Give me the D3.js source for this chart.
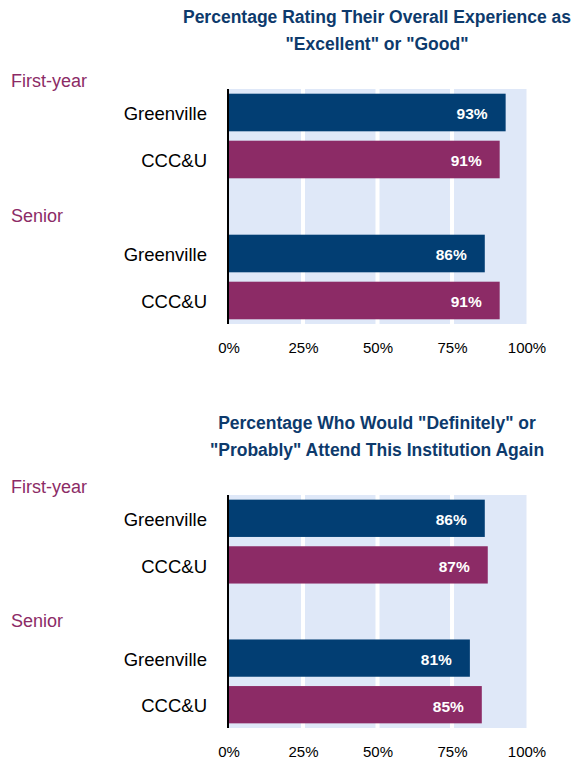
<!DOCTYPE html>
<html>
    <head>
        <title>Overall Experience and Attend Again</title>
        <meta charset="UTF-8">
        <script src="https://cdn.jsdelivr.net/npm/d3@7"></script>
        <style>
            body { margin: 0; background: #fff; }
            text { font-family: "Liberation Sans", Arial, sans-serif; }
        </style>
    </head>
    <body>
        <script>
            // chart data
            var rows = ["First-year Greenville", "First-year CCC&U", "gap", "Senior Greenville", "Senior CCC&U"];
            var rowLabels = ["Greenville", "CCC&U", "", "Greenville", "CCC&U"];
            var groups = ["First-year", "Senior"];
            var experienceValues = [93, 91, null, 86, 91];
            var attendAgainValues = [86, 87, null, 81, 85];
            var experienceTitle = ["Percentage Rating Their Overall Experience as", "\"Excellent\" or \"Good\""];
            var attendAgainTitle = ["Percentage Who Would \"Definitely\" or", "\"Probably\" Attend This Institution Again"];
            var ticks = [0, 25, 50, 75, 100];

            var navy = "#023e73", purple = "#8c2b66", plotBg = "#dfe8f8", titleColor = "#0d3a6c";

            var svg = d3.select("body").append("svg")
                    .attr("width", 582)
                    .attr("height", 761);

            var x = d3.scaleLinear().domain([0, 100]).range([228.5, 526.5]);

            function drawChart(titleLines, values, top, bottom) {
                var g = svg.append("g");

                var y = d3.scaleBand()
                        .domain(rows)
                        .range([top, bottom])
                        .paddingInner(0.2)
                        .paddingOuter(0.1);

                // title, centred over plot area
                g.selectAll(".title")
                        .data(titleLines)
                        .enter()
                        .append("text")
                        .attr("x", 377)
                        .attr("y", function (d, i) { return top - 66 + i * 26.5; })
                        .attr("text-anchor", "middle")
                        .attr("font-size", 17.5)
                        .attr("font-weight", "bold")
                        .attr("fill", titleColor)
                        .text(function (d) { return d; });

                // light blue plot background
                g.append("rect")
                        .attr("x", x(0))
                        .attr("y", top)
                        .attr("width", x(100) - x(0))
                        .attr("height", bottom - top)
                        .attr("fill", plotBg);

                // white gridlines
                g.selectAll(".grid")
                        .data(ticks.filter(function (t) { return t > 0 && t < 100; }))
                        .enter()
                        .append("line")
                        .attr("x1", function (d) { return x(d); })
                        .attr("x2", function (d) { return x(d); })
                        .attr("y1", top)
                        .attr("y2", bottom)
                        .attr("stroke", "#fff")
                        .attr("stroke-width", 4);

                var data = rows.map(function (r, i) {
                    return {row: r, label: rowLabels[i], value: values[i], color: i % 3 === 0 ? navy : purple};
                }).filter(function (d) { return d.value !== null; });

                // bars
                g.selectAll(".bar")
                        .data(data)
                        .enter()
                        .append("rect")
                        .attr("x", x(0))
                        .attr("y", function (d) { return y(d.row); })
                        .attr("width", function (d) { return x(d.value) - x(0); })
                        .attr("height", y.bandwidth())
                        .attr("fill", function (d) { return d.color; });

                // value labels inside the bars
                g.selectAll(".val")
                        .data(data)
                        .enter()
                        .append("text")
                        .attr("x", function (d) { return x(d.value) - 18; })
                        .attr("y", function (d) { return y(d.row) + y.bandwidth() / 2; })
                        .attr("dy", "0.45em")
                        .attr("text-anchor", "end")
                        .attr("font-size", 15.5)
                        .attr("font-weight", "bold")
                        .attr("fill", "#fff")
                        .text(function (d) { return d.value + "%"; });

                // category labels
                g.selectAll(".cat")
                        .data(data)
                        .enter()
                        .append("text")
                        .attr("x", 207)
                        .attr("y", function (d) { return y(d.row) + y.bandwidth() / 2; })
                        .attr("dy", "0.42em")
                        .attr("text-anchor", "end")
                        .attr("font-size", 18.5)
                        .attr("fill", "#000")
                        .text(function (d) { return d.label; });

                // group labels (First-year / Senior)
                g.selectAll(".grp")
                        .data(groups)
                        .enter()
                        .append("text")
                        .attr("x", 11)
                        .attr("y", function (d, i) { return i === 0 ? top - 2 : y("gap") + y.bandwidth() - 3.5; })
                        .attr("font-size", 18)
                        .attr("fill", purple)
                        .text(function (d) { return d; });

                // vertical axis line
                g.append("line")
                        .attr("x1", 228)
                        .attr("x2", 228)
                        .attr("y1", top)
                        .attr("y2", bottom)
                        .attr("stroke", "#000")
                        .attr("stroke-width", 2);

                // x axis tick labels
                var axis = g.append("g")
                        .attr("transform", "translate(0," + bottom + ")")
                        .call(d3.axisBottom(x)
                                .tickValues(ticks)
                                .tickSize(0)
                                .tickPadding(18)
                                .tickFormat(function (d) { return d + "%"; }));
                axis.select(".domain").remove();
                axis.selectAll("text")
                        .attr("font-size", 15)
                        .attr("font-family", "Liberation Sans, Arial, sans-serif")
                        .attr("fill", "#000");
            }

            drawChart(experienceTitle, experienceValues, 89, 324);
            drawChart(attendAgainTitle, attendAgainValues, 495, 728);
        </script>
    </body>
</html>
